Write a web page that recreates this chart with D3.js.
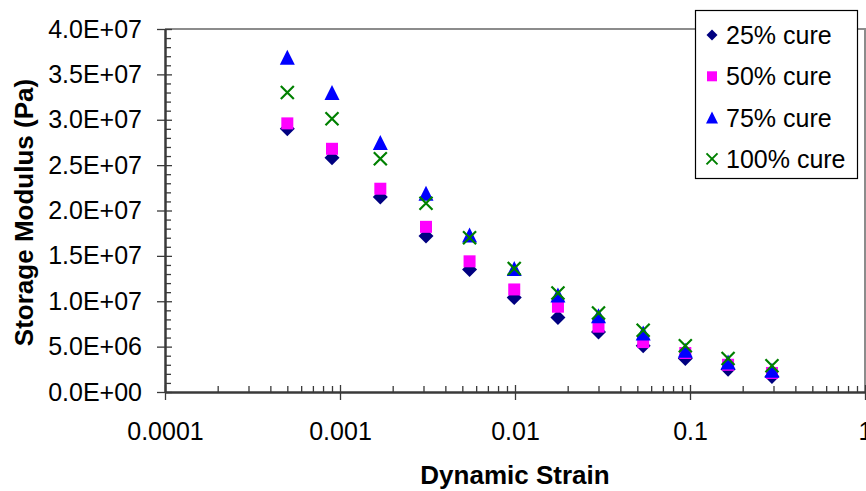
<!DOCTYPE html>
<html>
<head>
<meta charset="utf-8">
<script src="https://cdn.jsdelivr.net/npm/d3@7"></script>
<style>
  html, body { margin: 0; padding: 0; background: #fff; }
  svg { display: block; font-family: "Liberation Sans", Arial, sans-serif; }
</style>
</head>
<body>
<svg id="chart" width="866" height="491"></svg>
<script>
// ---- data ----
const strain = [0.0005, 0.0009, 0.0017, 0.0031, 0.0055, 0.0099, 0.0176, 0.030, 0.054, 0.094, 0.165, 0.294];
const cure25  = [29.0e6, 25.8e6, 21.5e6, 17.2e6, 13.5e6, 10.4e6, 8.2e6, 6.6e6, 5.1e6, 3.7e6, 2.5e6, 1.7e6];
const cure50  = [29.6e6, 26.8e6, 22.4e6, 18.2e6, 14.4e6, 11.3e6, 9.4e6, 7.2e6, 5.5e6, 4.3e6, 3.0e6, 2.1e6];
const cure75  = [36.9e6, 33.0e6, 27.5e6, 21.9e6, 17.3e6, 13.6e6, 10.7e6, 8.4e6, 6.5e6, 4.6e6, 3.3e6, 2.4e6];
const cure100 = [33.0e6, 30.1e6, 25.7e6, 20.8e6, 17.0e6, 13.6e6, 10.9e6, 8.7e6, 6.8e6, 5.1e6, 3.7e6, 2.9e6];
const seriesNames = ["25% cure", "50% cure", "75% cure", "100% cure"];
const yTickValues = [0, 5e6, 10e6, 15e6, 20e6, 25e6, 30e6, 35e6, 40e6];
const yTickLabels = ["0.0E+00", "5.0E+06", "1.0E+07", "1.5E+07", "2.0E+07", "2.5E+07", "3.0E+07", "3.5E+07", "4.0E+07"];
const xTickValues = [0.0001, 0.001, 0.01, 0.1, 1];
const xTickLabels = ["0.0001", "0.001", "0.01", "0.1", "1"];
const xTitle = "Dynamic Strain";
const yTitle = "Storage Modulus (Pa)";

// ---- layout ----
const svg = d3.select("#chart");
const plot = { left: 165, right: 865, top: 29, bottom: 392 };
const x = d3.scaleLog().domain([1e-4, 1]).range([plot.left, plot.right]);
const y = d3.scaleLinear().domain([0, 4e7]).range([plot.bottom, plot.top]);
const axisColor = "#3a3a3a";

// plot frame (top & right, gray)
svg.append("path")
  .attr("d", `M${plot.left},${plot.top}H${plot.right}V${plot.bottom}`)
  .attr("fill", "none").attr("stroke", "#8c8c8c").attr("stroke-width", 2);

// ---- y axis ----
const yMinor = d3.range(0, 4e7 + 1, 1e6).filter(v => v % 5e6 !== 0);
const yAxisG = svg.append("g").attr("transform", `translate(${plot.left},0)`);
yAxisG.call(d3.axisLeft(y).tickValues(yTickValues).tickSizeInner(8).tickSizeOuter(0).tickPadding(15)
  .tickFormat((d, i) => yTickLabels[i]));
yAxisG.append("g").call(d3.axisRight(y).tickValues(yTickValues).tickSize(7).tickFormat(""));
yAxisG.append("g").call(d3.axisRight(y).tickValues(yMinor).tickSize(6).tickFormat(""));
yAxisG.selectAll(".domain").filter((d, i, n) => n[i].parentNode !== yAxisG.node()).remove();

// ---- x axis ----
const xMinor = [];
[1e-4, 1e-3, 1e-2, 1e-1].forEach(dec => { for (let k = 2; k <= 9; k++) xMinor.push(dec * k); });
const xAxisG = svg.append("g").attr("transform", `translate(0,${plot.bottom})`);
xAxisG.call(d3.axisBottom(x).tickValues(xTickValues).tickSizeInner(8).tickSizeOuter(0).tickPadding(22)
  .tickFormat((d, i) => xTickLabels[i]));
xAxisG.append("g").call(d3.axisTop(x).tickValues(xTickValues).tickSize(7).tickFormat(""));
xAxisG.append("g").call(d3.axisTop(x).tickValues(xMinor).tickSize(6).tickFormat(""));
xAxisG.selectAll(".domain").filter((d, i, n) => n[i].parentNode !== xAxisG.node()).remove();

[yAxisG, xAxisG].forEach(g => {
  g.selectAll("line").attr("stroke", axisColor).attr("stroke-width", 1.3);
  g.selectAll(".domain").attr("stroke", axisColor).attr("stroke-width", 2.5);
  g.selectAll("text").attr("fill", "#000").attr("font-size", 25)
    .attr("font-family", "'Liberation Sans', Arial, sans-serif");
});

// ---- titles ----
svg.append("text").attr("x", (plot.left + plot.right) / 2).attr("y", 484)
  .attr("text-anchor", "middle").attr("font-size", 26).attr("font-weight", "bold").text(xTitle);
svg.append("text").attr("transform", `translate(33,${(plot.top + plot.bottom) / 2 + 2}) rotate(-90)`)
  .attr("text-anchor", "middle").attr("font-size", 26).attr("font-weight", "bold").text(yTitle);

// ---- markers ----
function markerPath(type, s) {
  if (type === "diamond") return `M0,${-s}L${s},0L0,${s}L${-s},0Z`;
  if (type === "square") return `M${-s},${-s}H${s}V${s}H${-s}Z`;
  if (type === "triangle") return `M0,${-s}L${s},${s}L${-s},${s}Z`;
  return `M${-s},${-s}L${s},${s}M${-s},${s}L${s},${-s}`;
}
const series = [
  { name: seriesNames[0], values: cure25,  type: "diamond",  color: "#000080", size: 7.5, lsize: 5.5 },
  { name: seriesNames[1], values: cure50,  type: "square",   color: "#ff00ff", size: 6,   lsize: 5 },
  { name: seriesNames[2], values: cure75,  type: "triangle", color: "#0000ff", size: 7.5, lsize: 6 },
  { name: seriesNames[3], values: cure100, type: "cross",    color: "#008000", size: 6.5, lsize: 5.5 }
];
series.forEach(s => {
  const g = svg.append("g");
  g.selectAll("path").data(strain.map((d, i) => [d, s.values[i]])).join("path")
    .attr("transform", d => `translate(${x(d[0])},${y(d[1])})`)
    .attr("d", markerPath(s.type, s.size))
    .attr("fill", s.type === "cross" ? "none" : s.color)
    .attr("stroke", s.type === "cross" ? s.color : "none")
    .attr("stroke-width", 2.2);
});

// ---- legend ----
const lg = svg.append("g");
lg.append("rect").attr("x", 695.5).attr("y", 10.5).attr("width", 162).attr("height", 168)
  .attr("fill", "#fff").attr("stroke", "#000").attr("stroke-width", 1.2);
series.forEach((s, i) => {
  const cy = 35 + i * 41.3;
  lg.append("path").attr("transform", `translate(712,${cy})`)
    .attr("d", markerPath(s.type, s.lsize))
    .attr("fill", s.type === "cross" ? "none" : s.color)
    .attr("stroke", s.type === "cross" ? s.color : "none").attr("stroke-width", 2);
  lg.append("text").attr("x", 726).attr("y", cy).attr("dy", "0.36em")
    .attr("font-size", 25).attr("fill", "#000").text(s.name);
});
</script>
</body>
</html>
